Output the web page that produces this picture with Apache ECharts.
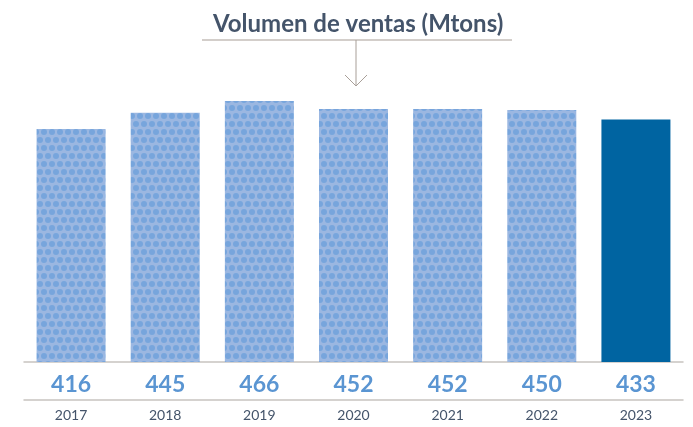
<!DOCTYPE html>
<html>
<head>
<meta charset="utf-8">
<script src="https://cdn.jsdelivr.net/npm/echarts@6/dist/echarts.min.js"></script>
<style>
    html, body { margin: 0; padding: 0; background: #fff; }
    #mains { width: 693px; height: 427px; }
</style>
</head>
<body>
<div id="mains"></div>
<script>
    var years = ['2017', '2018', '2019', '2020', '2021', '2022', '2023'];
    var ventas = [416, 445, 466, 452, 452, 450, 433];

    // dotted fill for the earlier years
    function dotPattern() {
        var c = document.createElement('canvas');
        c.width = 8;
        c.height = 16;
        var ctx = c.getContext('2d');
        ctx.fillStyle = '#9bb7e1';
        ctx.fillRect(0, 0, 8, 16);
        ctx.fillStyle = '#77a5dc';
        var dots = [[4, 4], [0, 12], [8, 12]];
        for (var i = 0; i < dots.length; i++) {
            ctx.beginPath();
            ctx.arc(dots[i][0], dots[i][1], 3, 0, Math.PI * 2);
            ctx.fill();
        }
        return c;
    }
    var pattern = {image: dotPattern(), repeat: 'repeat'};

    var barData = [];
    for (var i = 0; i < ventas.length; i++) {
        barData.push({
            value: ventas[i],
            itemStyle: {color: i === ventas.length - 1 ? '#0064a1' : pattern}
        });
    }

    var myChart = echarts.init(document.getElementById('mains'));
    myChart.setOption({
        animation: false,
        title: {
            text: 'Volumen de ventas (Mtons)',
            left: 208,
            top: 7,
            textStyle: {
                fontFamily: 'Lato',
                fontWeight: 'bold',
                fontSize: 24,
                color: '#44546a'
            }
        },
        graphic: [
            {type: 'line', shape: {x1: 202, y1: 40, x2: 512, y2: 40}, style: {stroke: '#c5beb8', lineWidth: 1.5}},
            {type: 'line', shape: {x1: 356, y1: 40, x2: 356, y2: 86}, style: {stroke: '#a89f98', lineWidth: 1}},
            {type: 'polyline', shape: {points: [[345, 75], [356, 86], [367, 75]]}, style: {stroke: '#a89f98', lineWidth: 1, fill: null}}
        ],
        grid: {left: 24, right: 10, top: 82, bottom: 65},
        xAxis: [
            {
                type: 'category',
                data: years,
                axisLine: {lineStyle: {color: '#c8c4c0', width: 1.5}},
                axisTick: {show: false},
                axisLabel: {
                    margin: 11,
                    fontFamily: 'Lato',
                    fontWeight: 'bold',
                    fontSize: 23,
                    color: '#5a95d2',
                    formatter: function (v, idx) { return String(ventas[idx]); }
                }
            },
            {
                type: 'category',
                data: years,
                position: 'bottom',
                offset: 38,
                axisLine: {lineStyle: {color: '#c8c4c0', width: 1.5}},
                axisTick: {show: false},
                axisLabel: {
                    margin: 8,
                    fontFamily: 'Lato',
                    fontSize: 14,
                    color: '#44546a'
                }
            }
        ],
        yAxis: {
            type: 'value',
            min: 0,
            max: 500,
            show: false
        },
        series: [
            {
                name: 'Volumen de ventas',
                type: 'bar',
                barWidth: 69,
                data: barData
            }
        ]
    });
</script>
</body>
</html>
